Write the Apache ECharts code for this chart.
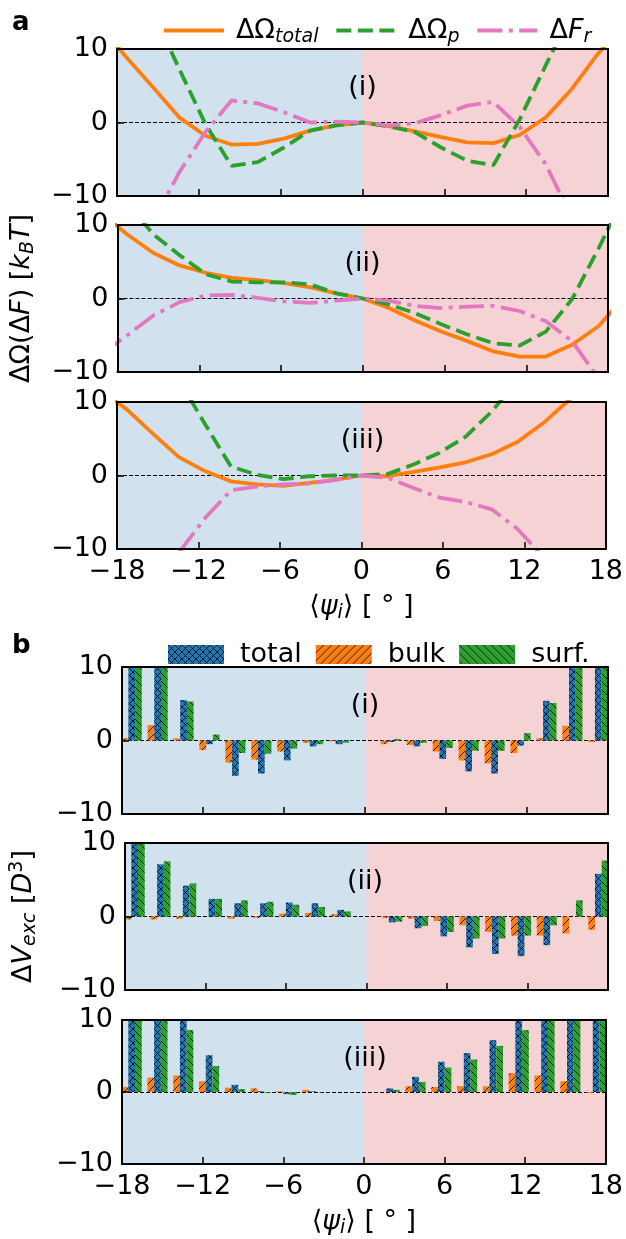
<!DOCTYPE html>
<html>
<head>
<meta charset="utf-8">
<script src="https://cdn.jsdelivr.net/npm/echarts@6.0.0/dist/echarts.min.js"></script>
<style>
  html, body { margin: 0; background: #fff; }
  #chart { width: 626px; height: 1239px; }
</style>
</head>
<body>
<div id="chart"></div>
<script>
// psi positions of the line data (deg); the outer ones fall outside the axis and get clipped
const psiLine = [-19.2, -17.28, -15.36, -13.44, -11.52, -9.6, -7.68, -5.76, -3.84, -1.92, 0,
  1.92, 3.84, 5.76, 7.68, 9.6, 11.52, 13.44, 15.36, 17.28, 19.2];

// panel a (i)
const omegaTotal1 = [13, 8.8, 4.8, 0.7, -1.8, -3.0, -2.9, -2.2, -1.1, -0.4, 0, -0.5, -1.2, -2.0, -2.7, -2.8, -1.7, 0.7, 4.6, 9.4, 13.5];
const omegaP1 = [null, null, 15, 7.3, -0.2, -5.9, -5.4, -3.4, -1.1, -0.4, 0, -0.5, -1.3, -3.4, -5.2, -5.8, 0.4, 7.8, 15, null, null];
const freeR1 = [null, null, -13.5, -6.8, -1.3, 3.0, 2.6, 1.4, 0.0, 0.1, 0, -0.4, -0.1, 1.0, 2.3, 2.8, -0.6, -5.7, -13, null, null];
// panel a (ii)
const omegaTotal2 = [11.7, 8.7, 6.2, 4.5, 3.5, 2.8, 2.5, 2.1, 1.5, 0.7, 0, -1.3, -3.0, -4.5, -5.8, -7.2, -7.9, -7.9, -6.3, -3.8, 0.2];
const omegaP2 = [null, 13, 8.7, 5.9, 3.3, 2.3, 2.2, 2.2, 1.9, 0.7, 0, -0.8, -2.0, -3.5, -4.9, -6.1, -6.4, -4.5, -0.1, 6.7, 14];
const freeR2 = [-7.6, -5.0, -2.3, -0.5, 0.4, 0.5, 0.1, -0.4, -0.6, -0.3, 0, -0.3, -1.0, -1.3, -1.1, -1.0, -1.7, -3.1, -5.8, -10.8, null];
// panel a (iii)
const omegaTotal3 = [11.6, 9.0, 5.7, 2.5, 0.6, -0.8, -1.2, -1.4, -1.0, -0.6, 0, -0.1, 0.5, 1.1, 1.8, 2.9, 4.6, 7.2, 10.4, null, null];
const omegaP3 = [null, null, null, 13, 7.0, 1.2, 0.1, -0.5, -0.1, 0.0, 0, 0.2, 1.5, 3.1, 5.3, 8.7, 13, null, null, null, null];
const freeR3 = [null, null, null, -10.5, -5.8, -2.0, -1.5, -1.2, -1.1, -0.6, 0, -0.3, -1.7, -3.0, -3.6, -4.6, -7.3, -11.2, null, null, null];

// psi positions of the bar groups (deg)
const psiBar = [-17.28, -15.36, -13.44, -11.52, -9.6, -7.68, -5.76, -3.84, -1.92,
  1.92, 3.84, 5.76, 7.68, 9.6, 11.52, 13.44, 15.36, 17.28];

// panel b (i)
const vTotal1 = [14, 14, 5.5, -0.5, -4.8, -4.5, -2.7, -0.8, -0.5, -0.2, -0.8, -2.5, -4.2, -4.5, -0.7, 5.4, 14, 14];
const vBulk1 = [0.3, 2.1, 0.3, -1.3, -3.0, -2.6, -1.5, -0.3, -0.1, -0.5, -0.6, -1.5, -2.7, -3.1, -1.7, 0.3, 2.0, -0.2];
const vSurf1 = [14, 14, 5.3, 0.8, -1.7, -1.8, -1.1, -0.5, -0.3, 0.2, -0.3, -1.0, -1.4, -1.4, 1.0, 5.1, 14, 14];
// panel b (ii)
const vTotal2 = [14, 7.1, 4.2, 2.4, 1.8, 1.8, 1.9, 1.8, 0.9, -0.8, -1.6, -2.7, -4.2, -5.1, -5.4, -3.9, 0, 5.8];
const vBulk2 = [-0.4, -0.4, -0.3, 0, -0.3, -0.2, 0.4, 0.5, 0.3, -0.2, -0.3, -0.6, -1.2, -2.1, -2.6, -2.6, -2.3, -1.8];
const vSurf2 = [14, 7.5, 4.5, 2.4, 2.2, 2.0, 1.6, 1.3, 0.7, -0.7, -1.3, -2.1, -3.0, -3.0, -2.6, -1.2, 2.2, 7.6];
// panel b (iii)
const vTotal3 = [14, 14, 14, 5.1, 1.0, 0.1, -0.3, 0.1, 0, 0.5, 2.1, 4.2, 5.4, 7.2, 14, 14, 14, 14];
const vBulk3 = [0.7, 2.0, 2.3, 1.5, 0.6, 0.5, 0.1, 0.3, 0, 0, 0.8, 0.7, 0.8, 0.8, 2.6, 2.3, 1.5, -0.1];
const vSurf3 = [14, 14, 8.6, 3.6, 0.4, -0.1, -0.4, -0.05, 0, 0.3, 1.4, 3.4, 4.5, 6.4, 8.6, 14, 14, 14];

const xTicks = { min: -18, max: 18, interval: 6 };
const yTicks = { min: -10, max: 10, interval: 10 };
const panelNames = ["(i)", "(ii)", "(iii)"];

const FONT = "DejaVu Sans";
const FS = 27, SUB = 19;
const ORANGE = "#ff7f0e", GREEN = "#2ca02c", PINK = "#e377c2", BLUE = "#1f77b4";
const BG_LEFT = "rgb(209,226,238)", BG_RIGHT = "rgb(245,211,212)";
const LW = 3.8;

const fmt = (v) => (v < 0 ? "\u2212" + Math.abs(v) : String(v));

const rich = {
  m: { fontFamily: FONT, fontSize: FS, lineHeight: 32, color: "#000", verticalAlign: "middle" },
  i: { fontFamily: FONT, fontSize: FS, lineHeight: 32, color: "#000", fontStyle: "italic", verticalAlign: "middle" },
  s: { fontFamily: FONT, fontSize: SUB, lineHeight: SUB, color: "#000", fontStyle: "italic", verticalAlign: "bottom" },
  u: { fontFamily: FONT, fontSize: SUB, lineHeight: SUB, color: "#000", verticalAlign: "top" },
};

const legendText = {
  "Ωtotal": "{m|ΔΩ}{s|total}",
  "Ωp": "{m|ΔΩ}{s|p}",
  "Fr": "{m|Δ}{i|F}{s|r}",
  "total": "{m|total}",
  "bulk": "{m|bulk}",
  "surf.": "{m|surf.}",
};

// hatch fills like matplotlib's "xx", "//" and "\\"
function hatch(bg, dirs, size) {
  const c = document.createElement("canvas");
  c.width = c.height = size;
  const g = c.getContext("2d");
  g.fillStyle = bg;
  g.fillRect(0, 0, size, size);
  g.strokeStyle = "rgba(0,0,0,0.8)";
  g.lineWidth = 1;
  dirs.forEach((d) => {
    for (const o of [-size, 0, size]) {
      g.beginPath();
      if (d > 0) { g.moveTo(o, size); g.lineTo(o + size, 0); }
      else { g.moveTo(o, 0); g.lineTo(o + size, size); }
      g.stroke();
    }
  });
  return { image: c, repeat: "repeat" };
}
const fillTotal = hatch(BLUE, [1, -1], 7);
const fillBulk = hatch(ORANGE, [1], 8);
const fillSurf = hatch(GREEN, [-1], 8);

const H = 147;
const grids = [
  { left: 117, width: 491, top: 49, height: H },
  { left: 117, width: 491, top: 225, height: H },
  { left: 117, width: 491, top: 402, height: H },
  { left: 122, width: 486, top: 667, height: H },
  { left: 122, width: 486, top: 843, height: H },
  { left: 122, width: 486, top: 1020, height: H },
];

const frame = { color: "#000", width: 2 };
const xAxes = [], yAxes = [];
grids.forEach((g, i) => {
  const bottom = i === 2 || i === 5;
  xAxes.push({
    type: "value", gridIndex: i, position: "bottom", z: 10, ...xTicks,
    axisLine: { onZero: false, lineStyle: frame },
    axisTick: { inside: true, length: 7, lineStyle: { color: "#000", width: 1.5 } },
    axisLabel: { show: bottom, color: "#000", fontFamily: FONT, fontSize: FS, margin: 9, formatter: fmt },
    splitLine: { show: false },
    name: bottom ? "{m|⟨}{i|ψ}{s|i}{m|⟩ [ ° ]}" : "",
    nameLocation: "middle", nameGap: 42,
    nameTextStyle: { rich },
  });
  xAxes.push({
    type: "value", gridIndex: i, position: "top", z: 10, ...xTicks,
    axisLine: { onZero: false, lineStyle: frame },
    axisTick: { show: false }, axisLabel: { show: false }, splitLine: { show: false },
  });
  let yName = "";
  if (i === 1) yName = "{m|ΔΩ(Δ}{i|F}{m|) [}{i|k}{s|B}{i|T}{m|]}";
  if (i === 4) yName = "{m|Δ}{i|V}{s|exc}{m| [}{i|D}{u|3}{m|]}";
  yAxes.push({
    type: "value", gridIndex: i, position: "left", z: 10, ...yTicks,
    axisLine: { onZero: false, lineStyle: frame },
    axisTick: { inside: true, length: 7, lineStyle: { color: "#000", width: 1.5 } },
    axisLabel: { color: "#000", fontFamily: FONT, fontSize: FS, margin: 9, formatter: fmt },
    splitLine: { show: false },
    name: yName, nameLocation: "middle", nameRotate: 90, nameGap: i < 3 ? 80 : 85,
    nameTextStyle: { rich },
  });
  yAxes.push({
    type: "value", gridIndex: i, position: "right", z: 10, ...yTicks,
    axisLine: { onZero: false, lineStyle: frame },
    axisTick: { show: false }, axisLabel: { show: false }, splitLine: { show: false },
  });
});

// blue under the whole panel, pink laid over the right half, so no seam shows at 0
const backdrop = {
  markArea: {
    silent: true, z: 1,
    data: [
      [{ xAxis: -18, itemStyle: { color: BG_LEFT } }, { xAxis: 18 }],
      [{ xAxis: 0, itemStyle: { color: BG_RIGHT } }, { xAxis: 18 }],
    ],
  },
  markLine: {
    silent: true, z: 1.5, symbol: "none", label: { show: false },
    lineStyle: { color: "#000", type: [4, 2], width: 1 },
    data: [{ yAxis: 0 }],
  },
};

const pairs = (xs, ys) => xs.map((x, j) => [x, ys[j]]);
const series = [];

const lineSets = [
  [omegaTotal1, omegaP1, freeR1],
  [omegaTotal2, omegaP2, freeR2],
  [omegaTotal3, omegaP3, freeR3],
];
const dashP = [15, 6.5], dashR = [25, 6.4, 4, 6.4];
lineSets.forEach((set, i) => {
  const common = { type: "line", xAxisIndex: 2 * i, yAxisIndex: 2 * i, symbol: "none", showSymbol: false, clip: true };
  series.push({ ...common, ...backdrop, name: "Ωtotal", data: pairs(psiLine, set[0]), lineStyle: { color: ORANGE, width: LW }, itemStyle: { color: ORANGE } });
  series.push({ ...common, name: "Ωp", data: pairs(psiLine, set[1]), lineStyle: { color: GREEN, width: LW, type: dashP }, itemStyle: { color: GREEN } });
  series.push({ ...common, name: "Fr", data: pairs(psiLine, set[2]), lineStyle: { color: PINK, width: LW, type: dashR }, itemStyle: { color: PINK } });
});

const barSets = [
  [vTotal1, vBulk1, vSurf1],
  [vTotal2, vBulk2, vSurf2],
  [vTotal3, vBulk3, vSurf3],
];
barSets.forEach((set, n) => {
  const i = n + 3;
  const common = { type: "bar", xAxisIndex: 2 * i, yAxisIndex: 2 * i, barWidth: 6.7, barGap: "0%", clip: true };
  series.push({ ...common, ...backdrop, name: "bulk", data: pairs(psiBar, set[1]), itemStyle: { color: fillBulk } });
  series.push({ ...common, name: "total", data: pairs(psiBar, set[0]), itemStyle: { color: fillTotal } });
  series.push({ ...common, name: "surf.", data: pairs(psiBar, set[2]), itemStyle: { color: fillSurf } });
});

const graphic = [
  { type: "text", x: 12, y: 23, style: { text: "a", font: 'bold 26px "DejaVu Sans"', fill: "#000", verticalAlign: "middle" } },
  { type: "text", x: 12, y: 646, style: { text: "b", font: 'bold 26px "DejaVu Sans"', fill: "#000", verticalAlign: "middle" } },
];
grids.forEach((g, i) => {
  graphic.push({
    type: "text", z: 5, x: g.left + g.width / 2, y: g.top + 39,
    style: { text: panelNames[i % 3], font: FS + 'px "DejaVu Sans"', fill: "#000", align: "center", verticalAlign: "middle" },
  });
});

const legendBase = {
  selectedMode: false,
  formatter: (n) => legendText[n],
  textStyle: { fontFamily: FONT, fontSize: FS, color: "#000", rich },
};

const chart = echarts.init(document.getElementById("chart"), null, { renderer: "canvas" });
chart.setOption({
  animation: false,
  backgroundColor: "#fff",
  textStyle: { fontFamily: FONT },
  grid: grids,
  xAxis: xAxes,
  yAxis: yAxes,
  legend: [
    { ...legendBase, data: ["Ωtotal", "Ωp", "Fr"], left: 157, top: 12, itemWidth: 60, itemHeight: 14, itemGap: 16,
      itemStyle: { opacity: 0 }, lineStyle: { width: LW },
      textStyle: { ...legendBase.textStyle, padding: [0, 0, 0, 7] } },
    { ...legendBase, data: ["total", "bulk", "surf."], left: 163, top: 636, itemWidth: 56, itemHeight: 19, itemGap: 14, icon: "rect",
      textStyle: { ...legendBase.textStyle, padding: [0, 0, 0, 11] } },
  ],
  graphic,
  series,
});
</script>
</body>
</html>
